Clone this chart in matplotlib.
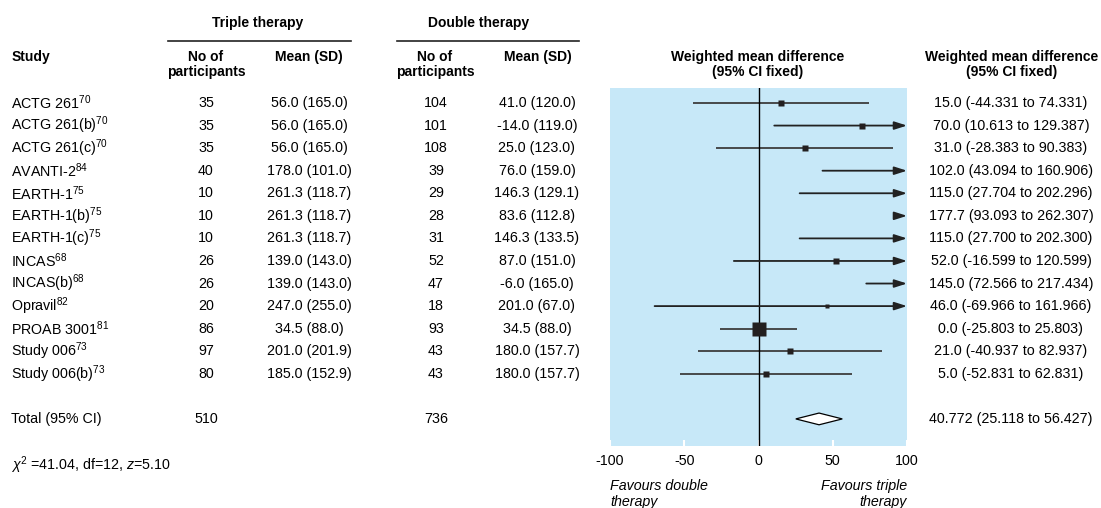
import numpy as np
import matplotlib.pyplot as plt
import matplotlib.transforms as mtransforms
from matplotlib.patches import Polygon

plt.rcParams['font.family'] = ['Liberation Sans', 'DejaVu Sans']
plt.rcParams['mathtext.fontset'] = 'custom'
plt.rcParams['mathtext.rm'] = 'Liberation Sans'
plt.rcParams['mathtext.it'] = 'Liberation Sans:italic'
plt.rcParams['axes.unicode_minus'] = False

#Datos de los estudios
estudios = ['ACTG 261', 'ACTG 261(b)', 'ACTG 261(c)', 'AVANTI-2', 'EARTH-1', 'EARTH-1(b)',
            'EARTH-1(c)', 'INCAS', 'INCAS(b)', 'Opravil', 'PROAB 3001', 'Study 006', 'Study 006(b)']
refs = ['70', '70', '70', '84', '75', '75', '75', '68', '68', '82', '81', '73', '73']
n_triple = [35, 35, 35, 40, 10, 10, 10, 26, 26, 20, 86, 97, 80]
media_triple = ['56.0 (165.0)', '56.0 (165.0)', '56.0 (165.0)', '178.0 (101.0)', '261.3 (118.7)',
                '261.3 (118.7)', '261.3 (118.7)', '139.0 (143.0)', '139.0 (143.0)', '247.0 (255.0)',
                '34.5 (88.0)', '201.0 (201.9)', '185.0 (152.9)']
n_doble = [104, 101, 108, 39, 29, 28, 31, 52, 47, 18, 93, 43, 43]
media_doble = ['41.0 (120.0)', '-14.0 (119.0)', '25.0 (123.0)', '76.0 (159.0)', '146.3 (129.1)',
               '83.6 (112.8)', '146.3 (133.5)', '87.0 (151.0)', '-6.0 (165.0)', '201.0 (67.0)',
               '34.5 (88.0)', '180.0 (157.7)', '180.0 (157.7)']
wmd = np.array([15.0, 70.0, 31.0, 102.0, 115.0, 177.7, 115.0, 52.0, 145.0, 46.0, 0.0, 21.0, 5.0])
ic_bajo = np.array([-44.331, 10.613, -28.383, 43.094, 27.704, 93.093, 27.700, -16.599,
                    72.566, -69.966, -25.803, -40.937, -52.831])
ic_alto = np.array([74.331, 129.387, 90.383, 160.906, 202.296, 262.307, 202.300, 120.599,
                    217.434, 161.966, 25.803, 82.937, 62.831])
total_n = [510, 736]
total_wmd = 40.772
total_ic = (25.118, 56.427)
chi2_txt = r'$\chi^2$ =41.04, df=12, $z$=5.10'

W, H = 1101, 508
fig = plt.figure(figsize=(W/100, H/100), dpi=100)
ax = fig.add_axes([610/W, 1 - 446/H, 297/W, 358/H])
ax.set_facecolor('#c7e8f8')
for s in ax.spines.values():
    s.set_visible(False)

fs = 10.3
ax.set_xlim(-100, 100)
ax.set_ylim(15.2, -0.665)
ax.set_yticks([])
ax.set_xticks([-100, -50, 0, 50, 100])
ax.tick_params(axis='x', direction='in', length=4, width=1.5, color='white', labelsize=fs, pad=6)
ax.axvline(0, color='black', lw=1.0, zorder=3)

filas = np.arange(len(estudios))
ee = (ic_alto - ic_bajo) / (2 * 1.96)
lado = 184.0 / ee * 0.72  # lado del cuadrado en puntos (peso)
gris = '#3d3d3d'
for i in filas:
    hi = min(ic_alto[i], 100)
    if ic_alto[i] > 100:
        ax.annotate('', xy=(100, i), xytext=(ic_bajo[i], i),
                    arrowprops=dict(arrowstyle='-|>,head_length=0.75,head_width=0.24',
                                    color='#222222', lw=1.3, shrinkA=0, shrinkB=0))
    else:
        ax.plot([ic_bajo[i], hi], [i, i], color=gris, lw=1.3, solid_capstyle='butt')
    if -100 <= wmd[i] <= 100:
        ax.plot(wmd[i], i, marker='s', ms=lado[i], color='#231f20', mec='none', zorder=4)

yt = len(estudios) + 1
dia = Polygon([[total_ic[0], yt], [total_wmd, yt - 0.26], [total_ic[1], yt], [total_wmd, yt + 0.26]],
              closed=True, fc='white', ec='black', lw=0.9, zorder=4)
ax.add_patch(dia)

#Tabla de texto
tr = mtransforms.blended_transform_factory(fig.transFigure, ax.transData)
def px(x):
    return x / W
for i in filas:
    ax.text(px(11), i, estudios[i] + r'$^{' + refs[i] + '}$', transform=tr, fontsize=fs,
            ha='left', va='center')
    ax.text(px(206), i, str(n_triple[i]), transform=tr, fontsize=fs, ha='center', va='center')
    ax.text(px(309), i, media_triple[i], transform=tr, fontsize=fs, ha='center', va='center')
    ax.text(px(436), i, str(n_doble[i]), transform=tr, fontsize=fs, ha='center', va='center')
    ax.text(px(537), i, media_doble[i], transform=tr, fontsize=fs, ha='center', va='center')
    ax.text(px(1011), i, '%.1f (%.3f to %.3f)' % (wmd[i], ic_bajo[i], ic_alto[i]),
            transform=tr, fontsize=fs, ha='center', va='center')
ax.text(px(11), yt, 'Total (95% CI)', transform=tr, fontsize=fs, ha='left', va='center')
ax.text(px(206), yt, str(total_n[0]), transform=tr, fontsize=fs, ha='center', va='center')
ax.text(px(436), yt, str(total_n[1]), transform=tr, fontsize=fs, ha='center', va='center')
ax.text(px(1011), yt, '%.3f (%.3f to %.3f)' % (total_wmd, total_ic[0], total_ic[1]),
        transform=tr, fontsize=fs, ha='center', va='center')

def ft(x, y, s, **kw):
    kw.setdefault('fontsize', fs)
    fig.text(x / W, 1 - y / H, s, **kw)

ft(11, 465, chi2_txt, ha='left', va='center')

#Encabezados
fb = 10
ft(258, 23, 'Triple therapy', ha='center', va='center', weight='bold', fontsize=fb)
ft(479, 23, 'Double therapy', ha='center', va='center', weight='bold', fontsize=fb)
fig.add_artist(plt.Line2D([168 / W, 351 / W], [1 - 40.5 / H] * 2, color='#222222', lw=1.2))
fig.add_artist(plt.Line2D([397 / W, 579 / W], [1 - 40.5 / H] * 2, color='#222222', lw=1.2))
ft(12, 57, 'Study', ha='left', va='center', weight='bold', fontsize=fb)
ft(206, 57, 'No of', ha='center', va='center', weight='bold', fontsize=fb)
ft(206, 72, 'participants', ha='center', va='center', weight='bold', fontsize=fb)
ft(309, 57, 'Mean (SD)', ha='center', va='center', weight='bold', fontsize=fb)
ft(435, 57, 'No of', ha='center', va='center', weight='bold', fontsize=fb)
ft(435, 72, 'participants', ha='center', va='center', weight='bold', fontsize=fb)
ft(538, 57, 'Mean (SD)', ha='center', va='center', weight='bold', fontsize=fb)
for xc in (758, 1012):
    ft(xc, 57, 'Weighted mean difference', ha='center', va='center', weight='bold', fontsize=fb)
    ft(xc, 72, '(95% CI fixed)', ha='center', va='center', weight='bold', fontsize=fb)

ft(610, 486, 'Favours double', ha='left', va='center', style='italic')
ft(610, 502, 'therapy', ha='left', va='center', style='italic')
ft(907, 486, 'Favours triple', ha='right', va='center', style='italic')
ft(907, 502, 'therapy', ha='right', va='center', style='italic')

plt.savefig('out.png')
plt.close()
